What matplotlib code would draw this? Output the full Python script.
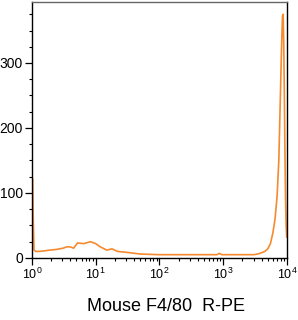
import numpy as np
import matplotlib.pyplot as plt
from matplotlib.ticker import LogLocator, MultipleLocator, LogFormatterMathtext

plt.rcParams['font.family'] = ['Liberation Sans', 'DejaVu Sans']
plt.rcParams['mathtext.fontset'] = 'custom'
plt.rcParams['mathtext.rm'] = 'Liberation Sans'
plt.rcParams['mathtext.it'] = 'Liberation Sans'

# fluorescence intensity (channel) and event counts
intensity = [1.0, 1.02, 1.05, 1.08, 1.15, 1.3, 1.6, 1.9, 2.4, 3.1, 3.5, 4.0, 4.5,
             5.2, 6.5, 8.3, 10, 11.8, 15, 18, 22, 31, 50, 70, 100, 200, 500,
             800, 870, 950, 1500, 2500, 3000, 3500, 4000, 4500, 5000, 5500,
             6000, 6500, 7000, 7450, 7800, 8200, 8500, 8700, 8900, 9100, 9300,
             9500, 9700, 9900]
counts = [20, 122, 60, 12, 10, 10, 11, 12, 13, 15, 17, 17, 15,
          23, 22, 25, 22, 17, 12, 14, 10, 8.5, 6, 5.5, 5, 5, 5,
          5, 7, 5, 5, 5, 5, 6, 8, 10, 14, 22,
          38, 60, 95, 150, 230, 320, 372, 375, 330, 250, 160,
          90, 50, 32]

fig = plt.figure(figsize=(2.98, 3.2), dpi=100)
ax = fig.add_axes([0.107, 0.194, 0.856, 0.8])
ax.plot(intensity, counts, color='#f58a2e', lw=1.2)

ax.set_xscale('log')
ax.set_xlim(1, 10**4)
ax.set_ylim(0, 394)
ax.xaxis.set_major_locator(LogLocator(base=10, numticks=10))
ax.xaxis.set_major_formatter(LogFormatterMathtext())
ax.xaxis.set_minor_locator(LogLocator(base=10, subs=np.arange(2, 10), numticks=20))
ax.yaxis.set_major_locator(MultipleLocator(100))
ax.yaxis.set_minor_locator(MultipleLocator(25))

ax.tick_params(which='major', length=5, width=0.9, pad=1.5)
ax.tick_params(which='minor', length=2.5, width=0.8)
ax.tick_params(axis='x', labelsize=9)
ax.tick_params(axis='y', labelsize=10)
for s in ax.spines.values():
    s.set_linewidth(1.0)
ax.spines['top'].set_color('#666666')

ax.set_xlabel('Mouse F4/80  R-PE', fontsize=13)
ax.xaxis.set_label_coords(0.525, -0.155)

fig.savefig('out.png', dpi=100)
